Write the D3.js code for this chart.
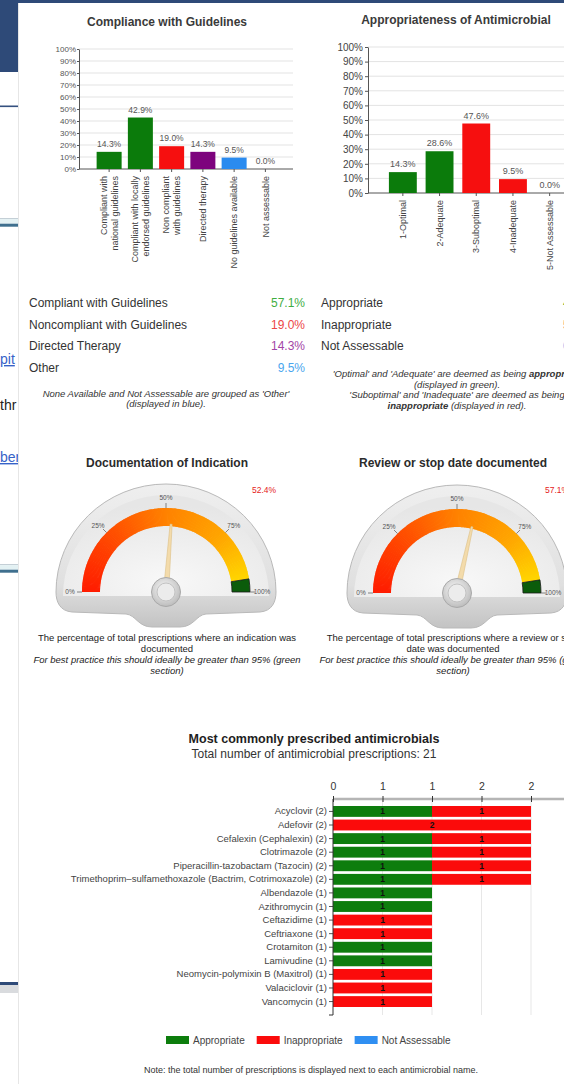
<!DOCTYPE html>
<html>
<head>
<meta charset="utf-8">
<title>Antimicrobial prescribing audit</title>
<script src="https://cdn.jsdelivr.net/npm/d3@7/dist/d3.min.js"></script>
<style>
  html, body { margin: 0; padding: 0; background: #ffffff; overflow: hidden; }
  svg { display: block; font-family: "Liberation Sans", Arial, Helvetica, sans-serif; }
</style>
</head>
<body>
<svg id="report" width="564" height="1084"></svg>
<script>
// ---------- data ----------
const complianceCategories = [
  ["Compliant with", "national guidelines"],
  ["Compliant with locally", "endorsed guidelines"],
  ["Non compliant", "with guidelines"],
  ["Directed therapy"],
  ["No guidelines available"],
  ["Not assessable"]
];
const complianceValues = [14.3, 42.9, 19.0, 14.3, 9.5, 0.0];
const complianceColors = ["#0b7b0b", "#0b7b0b", "#f60f0f", "#7d037d", "#2a8bef", "#2a8bef"];

const appropriatenessCategories = ["1-Optimal", "2-Adequate", "3-Suboptimal", "4-Inadequate", "5-Not Assessable"];
const appropriatenessValues = [14.3, 28.6, 47.6, 9.5, 0.0];
const appropriatenessColors = ["#0b7b0b", "#0b7b0b", "#f60f0f", "#f60f0f", "#2a8bef"];

const percentTicks = [0, 10, 20, 30, 40, 50, 60, 70, 80, 90, 100];

const complianceSummaryLabels = ["Compliant with Guidelines", "Noncompliant with Guidelines", "Directed Therapy", "Other"];
const complianceSummaryValues = [57.1, 19.0, 14.3, 9.5];
const complianceSummaryColors = ["#3fae3f", "#ec4646", "#a345a6", "#4aa6ee"];

const appropriatenessSummaryLabels = ["Appropriate", "Inappropriate", "Not Assessable"];
const appropriatenessSummaryValues = [42.9, 57.1, 0.0];
const appropriatenessSummaryColors = ["#3fae3f", "#ec4646", "#4aa6ee"];

const gaugeTitles = ["Documentation of Indication", "Review or stop date documented"];
const gaugeValues = [52.4, 57.1];
const gaugeTicks = [0, 25, 50, 75, 100];
const gaugeCaptions = [
  ["The percentage of total prescriptions where an indication was", "documented"],
  ["The percentage of total prescriptions where a review or stop", "date was documented"]
];
const gaugeAdvice = ["For best practice this should ideally be greater than 95% (green", "section)"];

const drugNames = [
  "Acyclovir", "Adefovir", "Cefalexin (Cephalexin)", "Clotrimazole",
  "Piperacillin-tazobactam (Tazocin)",
  "Trimethoprim\u2013sulfamethoxazole (Bactrim, Cotrimoxazole)",
  "Albendazole", "Azithromycin", "Ceftazidime", "Ceftriaxone", "Crotamiton",
  "Lamivudine", "Neomycin-polymixin B (Maxitrol)", "Valaciclovir", "Vancomycin"
];
const appropriateCounts   = [1, 0, 1, 1, 1, 1, 1, 1, 0, 0, 1, 1, 0, 0, 0];
const inappropriateCounts = [1, 2, 1, 1, 1, 1, 0, 0, 1, 1, 0, 0, 1, 1, 1];
const notAssessableCounts = [0, 0, 0, 0, 0, 0, 0, 0, 0, 0, 0, 0, 0, 0, 0];
const countTicks = [0, 0.5, 1, 1.5, 2];
const assessmentKeys = ["Appropriate", "Inappropriate", "Not Assessable"];
const assessmentColors = ["#0d7d0d", "#fb0b0b", "#2f8ff2"];

// ---------- setup ----------
const svg = d3.select("#report");
const defs = svg.append("defs");
const navy = "#2e4a78";
const ink = "#333333";

function plainAxis(g, size, color) {
  g.attr("font-family", null).attr("font-size", size);
  g.selectAll(".tick text").attr("fill", color);
  g.selectAll(".tick line").attr("stroke", "#555");
  g.select(".domain").attr("stroke", "#555");
}

// ---------- host page visible at the left edge ----------
const host = svg.append("g");
host.append("rect").attr("width", 564).attr("height", 1084).attr("fill", "#ffffff");
host.append("rect").attr("width", 564).attr("height", 3).attr("fill", navy);
host.append("rect").attr("width", 18).attr("height", 72).attr("fill", navy);
host.append("rect").attr("y", 105.5).attr("width", 18).attr("height", 1.6).attr("fill", "#34507f");
function doubleRule(y) {
  host.append("rect").attr("y", y).attr("width", 18).attr("height", 1.2).attr("fill", "#c4cfd6");
  host.append("rect").attr("y", y + 1.2).attr("width", 18).attr("height", 4.5).attr("fill", "#e3f1f3");
  host.append("rect").attr("y", y + 5.7).attr("width", 18).attr("height", 3).attr("fill", "#3f6f8e");
}
doubleRule(218);
doubleRule(564);
host.append("rect").attr("y", 982).attr("width", 18).attr("height", 3).attr("fill", navy);
host.append("rect").attr("y", 985).attr("width", 18).attr("height", 8).attr("fill", "#d9dbde");
const hostWords = [
  { t: "pit", y: 364, c: "#3662c8", u: true },
  { t: "thr", y: 410, c: "#222222", u: false },
  { t: "ber", y: 462, c: "#3662c8", u: true }
];
host.selectAll("text.host").data(hostWords).join("text")
  .attr("x", 0).attr("y", d => d.y).attr("font-size", 14)
  .attr("fill", d => d.c)
  .attr("text-decoration", d => d.u ? "underline" : null)
  .text(d => d.t);

// ---------- report panel ----------
svg.append("rect").attr("x", 18).attr("y", 3).attr("width", 546).attr("height", 1081).attr("fill", "#ffffff");
svg.append("line").attr("x1", 18.5).attr("x2", 18.5).attr("y1", 3).attr("y2", 1084).attr("stroke", "#e6e6e6");

// ---------- Compliance with Guidelines ----------
const c1 = svg.append("g");
const c1y = d3.scaleLinear().domain([0, 100]).range([169, 49]);
const c1x = d3.scaleBand().domain(d3.range(complianceValues.length)).range([93.5, 281]).paddingInner(0.2).paddingOuter(0.1);

c1.append("text").attr("x", 167).attr("y", 26).attr("text-anchor", "middle")
  .attr("font-size", 12).attr("font-weight", "bold").attr("fill", "#3a3a3a").text("Compliance with Guidelines");

c1.selectAll("line.grid").data(percentTicks.slice(1)).join("line")
  .attr("x1", 79).attr("x2", 293).attr("y1", d => c1y(d)).attr("y2", d => c1y(d))
  .attr("stroke", "#e3e3e3");

c1.append("g").attr("transform", "translate(79,0)")
  .call(d3.axisLeft(c1y).tickValues(percentTicks).tickFormat(d => d + "%").tickSize(2).tickPadding(1).tickSizeOuter(0))
  .call(g => plainAxis(g, 8, "#555"));

c1.append("line").attr("x1", 79).attr("x2", 293).attr("y1", c1y(0)).attr("y2", c1y(0)).attr("stroke", "#555");
c1.selectAll("line.xt").data(complianceValues).join("line")
  .attr("x1", (d, i) => c1x(i) + c1x.bandwidth() / 2).attr("x2", (d, i) => c1x(i) + c1x.bandwidth() / 2)
  .attr("y1", c1y(0)).attr("y2", c1y(0) + 3).attr("stroke", "#555");

c1.selectAll("rect.bar").data(complianceValues).join("rect")
  .attr("x", (d, i) => c1x(i)).attr("width", c1x.bandwidth())
  .attr("y", d => c1y(d)).attr("height", d => c1y(0) - c1y(d))
  .attr("fill", (d, i) => complianceColors[i]);

c1.selectAll("text.val").data(complianceValues).join("text")
  .attr("x", (d, i) => c1x(i) + c1x.bandwidth() / 2).attr("y", d => c1y(d) - 5)
  .attr("text-anchor", "middle").attr("font-size", 8.5).attr("fill", "#555")
  .text(d => d.toFixed(1) + "%");

c1.selectAll("g.cat").data(complianceCategories).join("g")
  .attr("transform", (d, i) => `translate(${c1x(i) + c1x.bandwidth() / 2},176) rotate(-90)`)
  .each(function (lines) {
    const g = d3.select(this);
    lines.forEach((t, j) => {
      g.append("text").attr("x", 0).attr("y", (j - (lines.length - 1) / 2) * 11)
        .attr("dy", "0.35em").attr("text-anchor", "end")
        .attr("font-size", 9).attr("fill", "#444").text(t);
    });
  });

// ---------- Appropriateness of Antimicrobial ----------
const c2 = svg.append("g");
const c2y = d3.scaleLinear().domain([0, 100]).range([193, 47]);
const c2x = d3.scaleBand().domain(appropriatenessCategories).range([384.5, 568]).paddingInner(0.24).paddingOuter(0.12);

c2.append("text").attr("x", 456).attr("y", 24).attr("text-anchor", "middle")
  .attr("font-size", 12).attr("font-weight", "bold").attr("fill", "#3a3a3a").text("Appropriateness of Antimicrobial");

c2.selectAll("line.grid").data(percentTicks.slice(1)).join("line")
  .attr("x1", 368).attr("x2", 564).attr("y1", d => c2y(d)).attr("y2", d => c2y(d))
  .attr("stroke", "#e3e3e3");

c2.append("g").attr("transform", "translate(368,0)")
  .call(d3.axisLeft(c2y).tickValues(percentTicks).tickFormat(d => d + "%").tickSize(3).tickPadding(2).tickSizeOuter(0))
  .call(g => plainAxis(g, 10, "#444"));

c2.append("line").attr("x1", 368).attr("x2", 564).attr("y1", c2y(0)).attr("y2", c2y(0)).attr("stroke", "#555");
c2.selectAll("line.xt").data(appropriatenessCategories).join("line")
  .attr("x1", d => c2x(d) + c2x.bandwidth() / 2).attr("x2", d => c2x(d) + c2x.bandwidth() / 2)
  .attr("y1", c2y(0)).attr("y2", c2y(0) + 3).attr("stroke", "#555");

c2.selectAll("rect.bar").data(appropriatenessValues).join("rect")
  .attr("x", (d, i) => c2x(appropriatenessCategories[i])).attr("width", c2x.bandwidth())
  .attr("y", d => c2y(d)).attr("height", d => c2y(0) - c2y(d))
  .attr("fill", (d, i) => appropriatenessColors[i]);

c2.selectAll("text.val").data(appropriatenessValues).join("text")
  .attr("x", (d, i) => c2x(appropriatenessCategories[i]) + c2x.bandwidth() / 2).attr("y", d => c2y(d) - 5)
  .attr("text-anchor", "middle").attr("font-size", 9).attr("fill", "#555")
  .text(d => d.toFixed(1) + "%");

c2.selectAll("text.cat").data(appropriatenessCategories).join("text")
  .attr("transform", d => `translate(${c2x(d) + c2x.bandwidth() / 2},200) rotate(-90)`)
  .attr("dy", "0.35em").attr("text-anchor", "end")
  .attr("font-size", 9).attr("fill", "#444").text(d => d);

// ---------- summary tables ----------
const rowY = d3.scaleLinear().domain([0, 3]).range([307, 371.5]);
const sum = svg.append("g").attr("font-size", 12);
sum.selectAll("text.l1").data(complianceSummaryLabels).join("text")
  .attr("x", 29).attr("y", (d, i) => rowY(i)).attr("fill", ink).text(d => d);
sum.selectAll("text.v1").data(complianceSummaryValues).join("text")
  .attr("x", 305).attr("y", (d, i) => rowY(i)).attr("text-anchor", "end")
  .attr("fill", (d, i) => complianceSummaryColors[i]).text(d => d.toFixed(1) + "%");
sum.selectAll("text.l2").data(appropriatenessSummaryLabels).join("text")
  .attr("x", 321).attr("y", (d, i) => rowY(i)).attr("fill", ink).text(d => d);
// the value column of the second table runs past the panel's right edge
sum.selectAll("text.v2").data(appropriatenessSummaryValues).join("text")
  .attr("x", 563).attr("y", (d, i) => rowY(i)).attr("text-anchor", "start")
  .attr("fill", (d, i) => appropriatenessSummaryColors[i]).text(d => d.toFixed(1) + "%");

const noteLeft = ["None Available and Not Assessable are grouped as 'Other'", "(displayed in blue)."];
sum.selectAll("text.n1").data(noteLeft).join("text")
  .attr("x", 166).attr("y", (d, i) => 396.5 + i * 10).attr("text-anchor", "middle")
  .attr("font-size", 9.5).attr("font-style", "italic").attr("fill", ink).text(d => d);

const noteRight = [
  [["'Optimal' and 'Adequate' are deemed as being ", false], ["appropriate", true]],
  [["(displayed in green).", false]],
  [["'Suboptimal' and 'Inadequate' are deemed as being", false]],
  [["inappropriate", true], [" (displayed in red).", false]]
];
sum.selectAll("text.n2").data(noteRight).join("text")
  .attr("x", 457).attr("y", (d, i) => 377 + i * 10.5).attr("text-anchor", "middle")
  .attr("font-size", 9.5).attr("font-style", "italic").attr("fill", ink)
  .each(function (parts) {
    d3.select(this).selectAll("tspan").data(parts).join("tspan")
      .attr("font-weight", p => p[1] ? "bold" : null).text(p => p[0]);
  });

// ---------- gauges ----------
const domeGrad = defs.append("linearGradient").attr("id", "domeGrad").attr("x1", 0).attr("y1", 0).attr("x2", 0).attr("y2", 1);
domeGrad.append("stop").attr("offset", "0%").attr("stop-color", "#efefef");
domeGrad.append("stop").attr("offset", "70%").attr("stop-color", "#e0e0e0");
domeGrad.append("stop").attr("offset", "100%").attr("stop-color", "#c3c3c3");
const faceGrad = defs.append("radialGradient").attr("id", "faceGrad").attr("cx", "50%").attr("cy", "85%").attr("r", "75%");
faceGrad.append("stop").attr("offset", "0%").attr("stop-color", "#f8f8f8");
faceGrad.append("stop").attr("offset", "100%").attr("stop-color", "#e6e6e6");
const hubGrad = defs.append("radialGradient").attr("id", "hubGrad").attr("cx", "45%").attr("cy", "40%").attr("r", "60%");
hubGrad.append("stop").attr("offset", "0%").attr("stop-color", "#fbfbfb");
hubGrad.append("stop").attr("offset", "100%").attr("stop-color", "#bdbdbd");

const gaugeLayout = [
  { cx: 166, cy: 592, valueX: 264, valueAnchor: "middle", textX: 167 },
  { cx: 457, cy: 593, valueX: 545, valueAnchor: "start", textX: 453 }
];
const bandColor = d3.scaleLinear().domain([0, 25, 50, 75, 95])
  .range(["#ff1c00", "#ff4b00", "#ff8200", "#ffa600", "#ffd600"]);
const toAngle = v => (v / 100 - 0.5) * Math.PI;
const arcGen = d3.arc().innerRadius(66).outerRadius(84);

gaugeValues.forEach((value, gi) => {
  const L = gaugeLayout[gi];
  const cx = L.cx, cy = L.cy;
  const g = svg.append("g");
  const Rx = 110, Ry = 108;

  g.append("text").attr("x", L.textX).attr("y", 467).attr("text-anchor", "middle")
    .attr("font-size", 12).attr("font-weight", "bold").attr("fill", "#2b2b2b").text(gaugeTitles[gi]);
  g.append("text").attr("x", L.valueX).attr("y", 493).attr("text-anchor", L.valueAnchor)
    .attr("font-size", 8.5).attr("fill", "#e52222").text(value.toFixed(1) + "%");

  const dome = [
    `M${cx - Rx},${cy}`,
    `A${Rx},${Ry} 0 0 1 ${cx + Rx},${cy}`,
    `C${cx + Rx},${cy + 10} ${cx + Rx - 4},${cy + 19} ${cx + Rx - 16},${cy + 20}`,
    `L${cx + 40},${cy + 22}`,
    `C${cx + 30},${cy + 23} ${cx + 28},${cy + 35} ${cx + 14},${cy + 35}`,
    `L${cx - 14},${cy + 35}`,
    `C${cx - 28},${cy + 35} ${cx - 30},${cy + 23} ${cx - 40},${cy + 22}`,
    `L${cx - Rx + 16},${cy + 20}`,
    `C${cx - Rx + 4},${cy + 19} ${cx - Rx},${cy + 10} ${cx - Rx},${cy}`,
    "Z"
  ].join(" ");
  g.append("path").attr("d", dome).attr("fill", "url(#domeGrad)").attr("stroke", "#b9b9b9").attr("stroke-width", 1);
  g.append("path")
    .attr("d", `M${cx - Rx + 7},${cy + 4} A${Rx - 7},${Ry - 7} 0 0 1 ${cx + Rx - 7},${cy + 4} Z`)
    .attr("fill", "url(#faceGrad)");

  g.selectAll("path.band").data(d3.range(0, 95, 0.5)).join("path")
    .attr("d", v => arcGen({ startAngle: toAngle(v), endAngle: toAngle(Math.min(v + 0.8, 95)) }))
    .attr("transform", `translate(${cx},${cy})`)
    .attr("fill", v => bandColor(v + 0.25));
  g.append("path")
    .attr("d", arcGen({ startAngle: toAngle(95), endAngle: toAngle(100) }))
    .attr("transform", `translate(${cx},${cy})`)
    .attr("fill", "#0b5c0b").attr("stroke", "#1a1a1a").attr("stroke-width", 0.8);

  g.selectAll("line.tk").data(gaugeTicks).join("line")
    .attr("x1", d => cx + 84 * Math.sin(toAngle(d))).attr("y1", d => cy - 84 * Math.cos(toAngle(d)))
    .attr("x2", d => cx + 89 * Math.sin(toAngle(d))).attr("y2", d => cy - 89 * Math.cos(toAngle(d)))
    .attr("stroke", "#666").attr("stroke-width", 0.8);
  g.selectAll("text.tk").data(gaugeTicks).join("text")
    .attr("x", d => cx + 96 * Math.sin(toAngle(d))).attr("y", d => cy - 94 * Math.cos(toAngle(d)))
    .attr("dy", "0.35em").attr("text-anchor", "middle").attr("font-size", 6.5).attr("fill", "#555")
    .text(d => d + "%");

  const a = toAngle(value);
  const dir = [Math.sin(a), -Math.cos(a)], perp = [Math.cos(a), Math.sin(a)];
  const needle = [
    [cx - 4 * dir[0] + 2.8 * perp[0], cy - 4 * dir[1] + 2.8 * perp[1]],
    [cx + 68 * dir[0] + 1 * perp[0], cy + 68 * dir[1] + 1 * perp[1]],
    [cx + 68 * dir[0] - 1 * perp[0], cy + 68 * dir[1] - 1 * perp[1]],
    [cx - 4 * dir[0] - 2.8 * perp[0], cy - 4 * dir[1] - 2.8 * perp[1]]
  ];
  g.append("path").attr("d", d3.line()(needle) + "Z")
    .attr("fill", "#f3dbab").attr("stroke", "#dcbf86").attr("stroke-width", 0.6);

  g.append("circle").attr("cx", cx).attr("cy", cy).attr("r", 14.5)
    .attr("fill", "url(#hubGrad)").attr("stroke", "#a9a9a9").attr("stroke-width", 1);
  g.append("circle").attr("cx", cx).attr("cy", cy).attr("r", 9)
    .attr("fill", "#ececec").attr("stroke", "#c2c2c2").attr("stroke-width", 1);

  const lines = gaugeCaptions[gi].map(t => [t, false]).concat(gaugeAdvice.map(t => [t, true]));
  g.selectAll("text.cap").data(lines).join("text")
    .attr("x", L.textX).attr("y", (d, i) => 641 + i * 11).attr("text-anchor", "middle")
    .attr("font-size", 9.5).attr("font-style", d => d[1] ? "italic" : null).attr("fill", "#222")
    .text(d => d[0]);
});

// ---------- Most commonly prescribed antimicrobials ----------
const bc = svg.append("g");
const rows = drugNames.map((name, i) => ({
  name,
  "Appropriate": appropriateCounts[i],
  "Inappropriate": inappropriateCounts[i],
  "Not Assessable": notAssessableCounts[i]
}));
const totals = new Map(rows.map(r => [r.name, assessmentKeys.reduce((s, k) => s + r[k], 0)]));
const totalPrescriptions = d3.sum(rows, r => totals.get(r.name));

const xb = d3.scaleLinear().domain([0, 2]).range([333, 531]);
const yb = d3.scaleBand().domain(drugNames).range([806, 1007]).paddingInner(0.2);
const stacked = d3.stack().keys(assessmentKeys)(rows);

bc.append("text").attr("x", 314).attr("y", 742.5).attr("text-anchor", "middle")
  .attr("font-size", 12.5).attr("font-weight", "bold").attr("fill", "#1e1e1e")
  .text("Most commonly prescribed antimicrobials");
bc.append("text").attr("x", 314).attr("y", 757.5).attr("text-anchor", "middle")
  .attr("font-size", 12).attr("fill", "#333")
  .text("Total number of antimicrobial prescriptions: " + totalPrescriptions);

bc.selectAll("line.grid").data(countTicks.slice(1)).join("line")
  .attr("x1", d => xb(d)).attr("x2", d => xb(d)).attr("y1", 800).attr("y2", 1015)
  .attr("stroke", "#e7e7e7");

const topAxis = bc.append("g").attr("transform", "translate(0,799)")
  .call(d3.axisTop(xb).tickValues(countTicks).tickFormat(d => Math.round(d)).tickSize(3).tickPadding(6))
  .call(g => plainAxis(g, 10.5, "#333"));
topAxis.select(".domain").remove();
bc.insert("line", "g").attr("x1", xb(0)).attr("x2", 564).attr("y1", 799).attr("y2", 799)
  .attr("stroke", "#b5b5b5").attr("stroke-width", 2.5);
topAxis.raise();
topAxis.selectAll(".tick line").attr("y1", 3).attr("stroke", "#333");

stacked.forEach((series, si) => {
  bc.selectAll("rect.s" + si).data(series.filter(d => d[1] > d[0])).join("rect")
    .attr("x", d => xb(d[0])).attr("width", d => xb(d[1]) - xb(d[0]))
    .attr("y", d => yb(d.data.name)).attr("height", yb.bandwidth())
    .attr("fill", assessmentColors[si]);
  bc.selectAll("text.s" + si).data(series.filter(d => d[1] > d[0])).join("text")
    .attr("x", d => xb((d[0] + d[1]) / 2)).attr("y", d => yb(d.data.name) + yb.bandwidth() / 2)
    .attr("dy", "0.35em").attr("text-anchor", "middle")
    .attr("font-size", 8.5).attr("font-weight", "bold").attr("fill", "#111")
    .text(d => d[1] - d[0]);
});

const leftAxis = bc.append("g").attr("transform", `translate(${xb(0)},0)`)
  .call(d3.axisLeft(yb).tickSize(4).tickPadding(2).tickSizeOuter(0)
    .tickFormat(n => `${n} (${totals.get(n)})`))
  .call(g => plainAxis(g, 9.5, "#444"));
leftAxis.select(".domain").remove();
bc.append("line").attr("x1", xb(0)).attr("x2", xb(0)).attr("y1", 799).attr("y2", 1015).attr("stroke", "#333");
bc.append("line").attr("x1", xb(0) - 4).attr("x2", xb(0)).attr("y1", 1015).attr("y2", 1015).attr("stroke", "#333");

// legend
const legend = bc.append("g").attr("font-size", 10).attr("fill", "#444");
let lx = 166;
assessmentKeys.forEach((k, i) => {
  legend.append("rect").attr("x", lx).attr("y", 1036).attr("width", 23).attr("height", 8).attr("fill", assessmentColors[i]);
  const t = legend.append("text").attr("x", lx + 27).attr("y", 1044).text(k);
  lx += 27 + t.node().getComputedTextLength() + 12;
});

bc.append("text").attr("x", 311).attr("y", 1073).attr("text-anchor", "middle")
  .attr("font-size", 9).attr("fill", "#333")
  .text("Note: the total number of prescriptions is displayed next to each antimicrobial name.");
</script>
</body>
</html>
